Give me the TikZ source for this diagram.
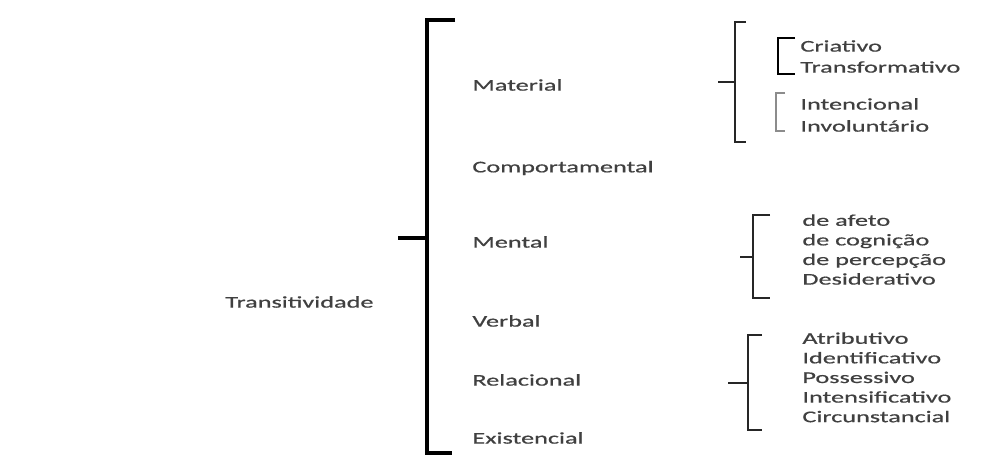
\documentclass[tikz,border=0pt]{standalone}
\usepackage{fontspec}
\setmainfont{Carlito}[FakeStretch=1.6,FakeBold=0.6]
\begin{document}
\begin{tikzpicture}[x=0.5pt,y=-0.5pt,
  lbl/.style={anchor=west,inner sep=0pt,text=black!75,font=\fontsize{8.2}{9.8}\selectfont},
  lst/.style={anchor=north west,inner sep=0pt,text=black!75,align=left,font=\fontsize{8.2}{9.8}\selectfont},
  mainbr/.style={line width=1.6pt,black},
  subbr/.style={line width=0.9pt,black!85},
  graybr/.style={line width=0.6pt,black!45}]
\useasboundingbox (0,0) rectangle (1008,455);
% main brace
\coordinate (mt) at (427,20);
\coordinate (mb) at (427,453);
\coordinate (mm) at (427,238);
\draw[mainbr] (455,20) -- (mt) -- (mb) -- (452,453);
\draw[mainbr] (398,238) -- (mm);
\node[lbl] (trans) at (225,302) {Transitividade};
\node[lbl] (mat) at (472,85) {Material};
\node[lbl] (comp) at (472,168) {Comportamental};
\node[lbl] (ment) at (472,242) {Mental};
\node[lbl] (verb) at (472,321) {Verbal};
\node[lbl] (rel) at (472,380) {Relacional};
\node[lbl] (exis) at (472,438) {Existencial};
% material brace
\draw[subbr] (746,22) -- (735,22) -- (735,142) -- (746,142);
\draw[subbr] (718,82) -- (735,82);
\draw[line width=1.2pt] (795,38) -- (778,38) -- (778,74) -- (795,74);
\node[lbl] (cri) at (800,46) {Criativo};
\node[lbl] (tra) at (800,67) {Transformativo};
\draw[graybr] (785,93) -- (776,93) -- (776,131) -- (785,131);
\node[lbl] (int) at (800,104) {Intencional};
\node[lbl] (inv) at (800,126) {Involuntário};
% mental brace
\draw[subbr] (770,215) -- (753,215) -- (753,298) -- (770,298);
\draw[subbr] (740,257) -- (753,257);
\node[lst] (mlist) at (802,214) {de afeto\\de cognição\\de percepção\\Desiderativo};
% relacional brace
\draw[subbr] (762,335) -- (748,335) -- (748,430) -- (762,430);
\draw[subbr] (728,383) -- (748,383);
\node[lst] (rlist) at (802,332) {Atributivo\\Identificativo\\Possessivo\\Intensificativo\\Circunstancial};
\end{tikzpicture}
\end{document}
